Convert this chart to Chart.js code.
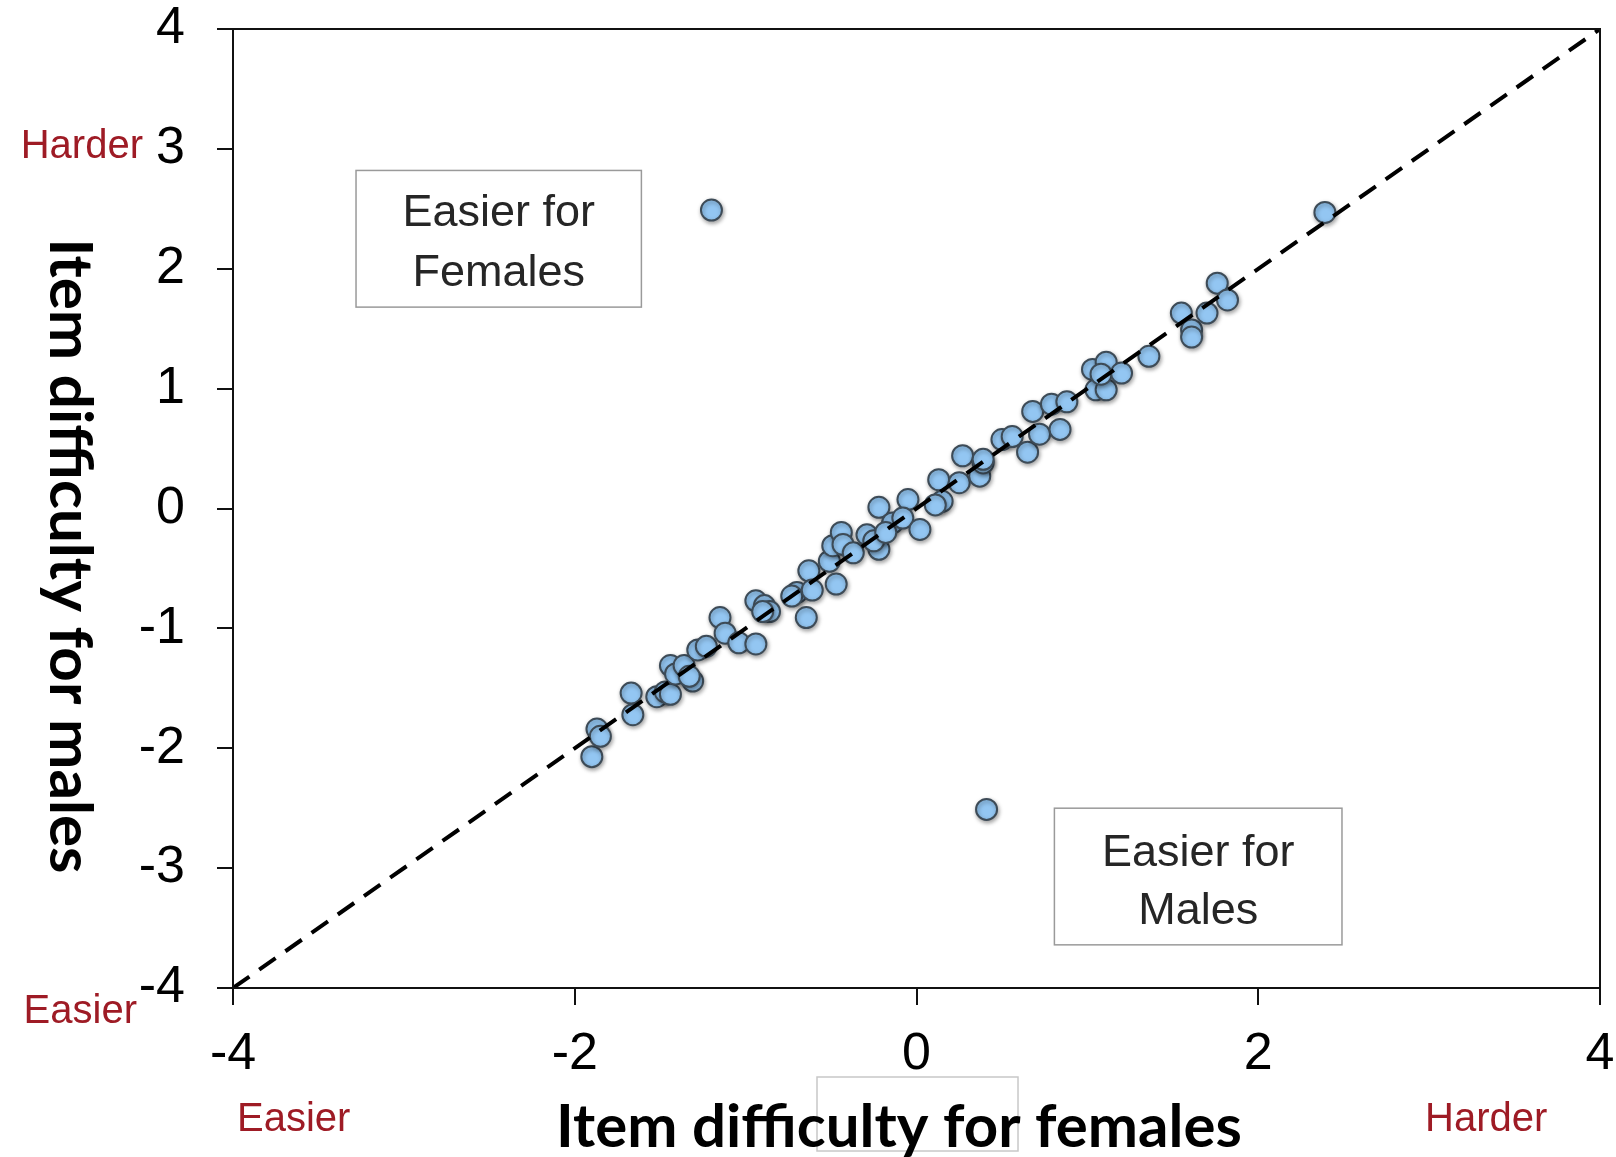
<!DOCTYPE html>
<html>
<head>
<meta charset="utf-8">
<title>Item difficulty for females vs males</title>
<script src="https://cdn.jsdelivr.net/npm/chart.js@4.4.0/dist/chart.umd.min.js"></script>
<style>
  body { margin: 0; background: #fff; }
  canvas { display: block; }
</style>
</head>
<body>
<canvas id="diffChart" width="1616" height="1157"></canvas>
<script>
// item difficulties (logits), one entry per item
var femaleDifficulty = [
  -1.90, -1.87, -1.85, -1.67, -1.66, -1.52, -1.47, -1.44, -1.44, -1.41,
  -1.36, -1.31, -1.33, -1.28, -1.23, -1.15, -1.12, -1.04, -0.94, -0.94,
  -0.89, -0.86, -0.90, -0.70, -0.73, -0.645, -0.63, -0.61, -0.51, -0.47,
  -0.49, -0.44, -0.43, -0.37, -0.29, -0.22, -0.22, -0.25, -0.14, -0.18,
  -0.05, -0.08, 0.02, 0.13, 0.15, 0.11, 0.27, 0.25, 0.37, 0.39,
  0.39, 0.50, 0.56, 0.65, 0.68, 0.72, 0.79, 0.84, 0.88, 1.03,
  1.05, 1.11, 1.11, 1.08, 1.20, 1.36, 1.55, 1.61, 1.61, 1.70,
  1.76, 1.82,
  -1.20, 0.41, 2.39
];
var maleDifficulty = [
  -2.07, -1.84, -1.90, -1.54, -1.72, -1.57, -1.53, -1.55, -1.31, -1.38,
  -1.31, -1.44, -1.40, -1.18, -1.15, -0.91, -1.04, -1.12, -1.13, -0.77,
  -0.81, -0.86, -0.86, -0.70, -0.73, -0.91, -0.52, -0.68, -0.44, -0.63,
  -0.31, -0.20, -0.30, -0.37, -0.22, 0.01, -0.34, -0.27, -0.12, -0.20,
  0.075, -0.08, -0.175, 0.24, 0.06, 0.03, 0.44, 0.215, 0.27, 0.38,
  0.41, 0.575, 0.60, 0.47, 0.81, 0.62, 0.87, 0.66, 0.89, 1.16,
  0.99, 0.99, 1.22, 1.12, 1.13, 1.27, 1.63, 1.49, 1.43, 1.63,
  1.88, 1.74,
  2.49, -2.51, 2.47
];
var identityLine = [-4, 4];
var xTicks = [-4, -2, 0, 2, 4];
var yTicks = [-4, -3, -2, -1, 0, 1, 2, 3, 4];

var points = femaleDifficulty.map(function (f, i) {
  return { x: f, y: maleDifficulty[i] };
});
var linePoints = identityLine.map(function (v) { return { x: v, y: v }; });

Chart.defaults.font.family = '"Liberation Sans", Arial, sans-serif';
Chart.defaults.color = '#111';

// soft shadow under the dots
const dotShadow = {
  id: 'dotShadow',
  beforeDatasetDraw(chart, args) {
    if (args.index !== 1) return;
    const ctx = chart.ctx;
    ctx.save();
    ctx.shadowColor = 'rgba(0,0,0,0.35)';
    ctx.shadowBlur = 4;
    ctx.shadowOffsetX = 1;
    ctx.shadowOffsetY = 2;
  },
  afterDatasetDraw(chart, args) {
    if (args.index !== 1) return;
    chart.ctx.restore();
  }
};

function fitFont(ctx, text, weight, family, width) {
  ctx.font = weight + ' 100px ' + family;
  var size = 100 * width / ctx.measureText(text).width;
  return weight + ' ' + size.toFixed(1) + 'px ' + family;
}

const extras = {
  id: 'extras',
  beforeDraw(chart) {
    const ctx = chart.ctx;
    ctx.save();
    ctx.fillStyle = '#fff';
    ctx.fillRect(0, 0, chart.width, chart.height);
    ctx.restore();
  },
  afterDraw(chart) {
    const ctx = chart.ctx, a = chart.chartArea;
    const xs = chart.scales.x, ys = chart.scales.y;
    ctx.save();

    // frame round the plot
    ctx.strokeStyle = '#111';
    ctx.lineWidth = 2;
    ctx.strokeRect(a.left, a.top, a.right - a.left, a.bottom - a.top);

    // note boxes
    function note(x0, x1, y0, y1, lines, lys) {
      const l = xs.getPixelForValue(x0), r = xs.getPixelForValue(x1);
      const t = ys.getPixelForValue(y0), b = ys.getPixelForValue(y1);
      ctx.fillStyle = '#fff';
      ctx.fillRect(l, t, r - l, b - t);
      ctx.strokeStyle = '#9a9a9a';
      ctx.lineWidth = 1.5;
      ctx.strokeRect(l, t, r - l, b - t);
      ctx.fillStyle = '#262626';
      ctx.font = '45px "Liberation Sans", Arial, sans-serif';
      ctx.textAlign = 'center';
      ctx.textBaseline = 'middle';
      lines.forEach(function (s, i) {
        ctx.fillText(s, (l + r) / 2, ys.getPixelForValue(lys[i]));
      });
    }
    note(-3.28, -1.61, 2.82, 1.68, ['Easier for', 'Females'], [2.46, 1.96]);
    note(0.807, 2.49, -2.5, -3.64, ['Easier for', 'Males'], [-2.88, -3.36]);

    // red direction words
    ctx.fillStyle = '#9e1b25';
    ctx.font = '40px "Liberation Sans", Arial, sans-serif';
    ctx.textBaseline = 'middle';
    ctx.textAlign = 'right';
    ctx.fillText('Harder', 143, 147);
    ctx.fillText('Easier', 137, 1012);
    ctx.textAlign = 'left';
    ctx.fillText('Easier', 237, 1120);
    ctx.fillText('Harder', 1425, 1120);

    // stray faint box under the x axis
    ctx.strokeStyle = '#c8c8c8';
    ctx.lineWidth = 1.5;
    ctx.strokeRect(817, 1077, 201, 74);

    // axis titles
    ctx.fillStyle = '#000';
    ctx.textBaseline = 'alphabetic';
    ctx.textAlign = 'center';
    const xTitle = 'Item difficulty for females';
    ctx.font = fitFont(ctx, xTitle, 'bold', 'Lato, "Open Sans", sans-serif', 686);
    ctx.fillText(xTitle, 899, 1147);

    const yTitle = 'Item difficulty for males';
    ctx.font = fitFont(ctx, yTitle, 'bold', 'Lato, "Open Sans", sans-serif', 635);
    ctx.translate(50, 556);
    ctx.rotate(Math.PI / 2);
    ctx.fillText(yTitle, 0, 0);
    ctx.restore();
  }
};

const canvas = document.getElementById('diffChart');
const diffChart = new Chart(canvas, {
  type: 'scatter',
  data: {
    datasets: [{
      type: 'line',
      label: 'Equal difficulty',
      data: linePoints,
      borderColor: '#000',
      borderWidth: 4,
      borderDash: [20, 12],
      pointRadius: 0,
      fill: false,
      order: 0
    }, {
      label: 'Items',
      data: points,
      pointRadius: 10.5,
      pointBackgroundColor: '#93c6f2',
      pointBorderColor: '#3d4b57',
      pointBorderWidth: 2,
      order: 1
    }]
  },
  options: {
    responsive: false,
    devicePixelRatio: 1,
    animation: false,
    layout: { padding: { top: 29, right: 16, left: 0, bottom: 0 } },
    plugins: {
      legend: { display: false },
      tooltip: { enabled: false }
    },
    scales: {
      x: {
        type: 'linear',
        min: -4,
        max: 4,
        afterBuildTicks: function (scale) {
          scale.ticks = xTicks.map(function (v) { return { value: v }; });
        },
        afterFit: function (scale) {
          scale.height = 169;
          scale.paddingLeft = 0;
          scale.paddingRight = 0;
        },
        grid: { drawOnChartArea: false, drawTicks: true, tickLength: 17, color: '#111', lineWidth: 2 },
        border: { color: '#111', width: 2 },
        ticks: { padding: 24, color: '#000', font: { size: 52, lineHeight: 1 }, maxRotation: 0 }
      },
      y: {
        type: 'linear',
        min: -4,
        max: 4,
        afterBuildTicks: function (scale) {
          scale.ticks = yTicks.map(function (v) { return { value: v }; });
        },
        afterFit: function (scale) {
          scale.width = 233;
          scale.paddingTop = 0;
          scale.paddingBottom = 0;
        },
        grid: { drawOnChartArea: false, drawTicks: true, tickLength: 16, color: '#111', lineWidth: 2 },
        border: { color: '#111', width: 2 },
        ticks: { padding: 32, color: '#000', font: { size: 52, lineHeight: 1 } }
      }
    }
  },
  plugins: [dotShadow, extras]
});
</script>
</body>
</html>
